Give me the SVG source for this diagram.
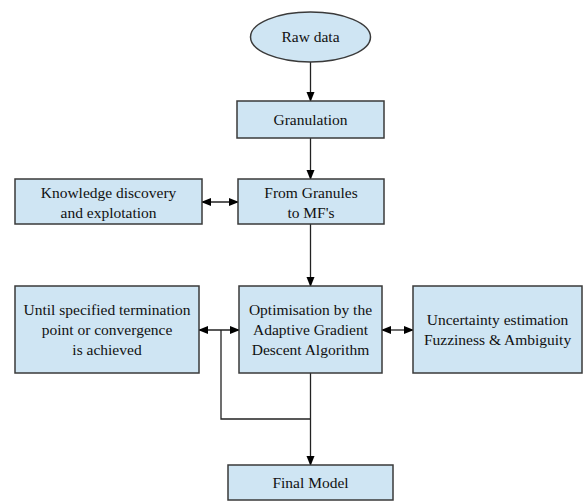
<svg xmlns="http://www.w3.org/2000/svg" width="585" height="502" viewBox="0 0 585 502">
<defs>
<style>
.box{fill:#cfe5f3;stroke:#3a3a3a;stroke-width:1.5}
.t{font-family:'Liberation Serif','Times New Roman',serif;font-size:15.5px;fill:#111;text-anchor:middle}
.c{fill:none;stroke:#222;stroke-width:1.3}
</style>
<marker id="ah" markerWidth="10" markerHeight="10" refX="9" refY="4" orient="auto" markerUnits="userSpaceOnUse">
<path d="M0,0 L10,4 L0,8 Z" fill="#000"/>
</marker>
<marker id="as" markerWidth="10" markerHeight="10" refX="1" refY="4" orient="auto" markerUnits="userSpaceOnUse">
<path d="M10,0 L0,4 L10,8 Z" fill="#000"/>
</marker>
</defs>
<rect width="585" height="502" fill="#fff"/>
<g id="connectors">
<line class="c" x1="310.5" y1="62" x2="310.5" y2="101" marker-end="url(#ah)"/>
<line class="c" x1="310.5" y1="138" x2="310.5" y2="179" marker-end="url(#ah)"/>
<line class="c" x1="202" y1="202" x2="238" y2="202" marker-start="url(#as)" marker-end="url(#ah)"/>
<line class="c" x1="310.5" y1="224" x2="310.5" y2="286" marker-end="url(#ah)"/>
<line class="c" x1="199" y1="330" x2="239" y2="330" marker-start="url(#as)" marker-end="url(#ah)"/>
<line class="c" x1="382" y1="330" x2="413" y2="330" marker-start="url(#as)" marker-end="url(#ah)"/>
<polyline class="c" points="221,330 221,419 310.5,419"/>
<line class="c" x1="310.5" y1="373" x2="310.5" y2="465" marker-end="url(#ah)"/>
</g>
<g id="raw">
<ellipse class="box" cx="310.5" cy="37" rx="60" ry="25"/>
<text class="t" x="310.5" y="42">Raw data</text>
</g>
<g id="granulation">
<rect class="box" x="237" y="101" width="147" height="37"/>
<text class="t" x="310.5" y="125">Granulation</text>
</g>
<g id="knowledge">
<rect class="box" x="15" y="179" width="187" height="45"/>
<text class="t" x="108.5" y="198">Knowledge discovery</text>
<text class="t" x="108.5" y="218">and explotation</text>
</g>
<g id="granules">
<rect class="box" x="238" y="179" width="146" height="45"/>
<text class="t" x="311" y="198">From Granules</text>
<text class="t" x="311" y="218">to MF's</text>
</g>
<g id="until">
<rect class="box" x="15" y="286" width="184" height="87"/>
<text class="t" x="107" y="315">Until specified termination</text>
<text class="t" x="107" y="335">point or convergence</text>
<text class="t" x="107" y="355">is achieved</text>
</g>
<g id="optimisation">
<rect class="box" x="239" y="286" width="143" height="87"/>
<text class="t" x="310.5" y="315">Optimisation by the</text>
<text class="t" x="310.5" y="335">Adaptive Gradient</text>
<text class="t" x="310.5" y="355">Descent Algorithm</text>
</g>
<g id="uncertainty">
<rect class="box" x="413" y="286" width="169" height="87"/>
<text class="t" x="497.5" y="325">Uncertainty estimation</text>
<text class="t" x="497.5" y="345">Fuzziness &amp; Ambiguity</text>
</g>
<g id="final">
<rect class="box" x="228" y="465" width="165" height="35"/>
<text class="t" x="310.5" y="488">Final Model</text>
</g>
</svg>
